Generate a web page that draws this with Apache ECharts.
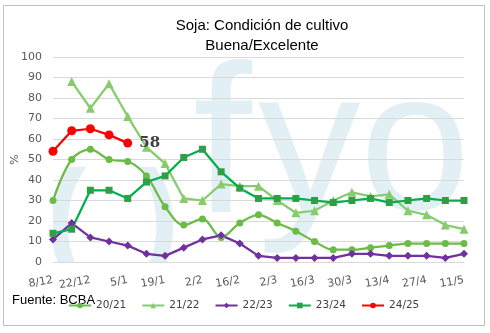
<!DOCTYPE html>
<html>
<head>
<meta charset="utf-8">
<script src="https://cdn.jsdelivr.net/npm/echarts@6/dist/echarts.min.js"></script>
<style>
  html, body { margin: 0; padding: 0; background: #fff; }
  #chart { width: 490px; height: 333px; }
</style>
</head>
<body>
<div id="chart"></div>
<script>
// Weekly survey dates (day/month)
const weeks = ['8/12','15/12','22/12','29/12','5/1','12/1','19/1','26/1','2/2','9/2','16/2','23/2',
               '2/3','9/3','16/3','23/3','30/3','6/4','13/4','20/4','27/4','4/5','11/5'];

// Share of soybean rated good/excellent (%), per campaign
const s2021 = [30,50,55,50,49,42,27,18,21,12,19,23,19,15,10,6,6,7,8,9,9,9,9];
const s2122 = [null,88,75,87,71,56,48,31,30,38,37,37,30,24,25,30,34,32,33,25,23,18,16];
const s2223 = [11,19,12,10,8,4,3,7,11,13,9,3,2,2,2,2,4,4,3,3,3,2,4];
const s2324 = [14,16,35,35,31,39,42,51,55,44,36,31,31,31,30,29,30,31,29,30,31,30,30];
const s2425 = [54,64,65,62,58];

const yTicks = { min: 0, max: 100, step: 10 };

const W = 490, H = 333;
const plot = { left: 53, right: 26, top: 57, bottom: 71 };
const axisFont = 'DejaVu Sans';

// Background "(fyo" logo, painted on its own canvas and clipped to the plot area
function logoCanvas() {
  const c = document.createElement('canvas');
  c.width = W; c.height = H;
  const ctx = c.getContext('2d');
  ctx.beginPath();
  ctx.rect(plot.left, plot.top, W - plot.left - plot.right, H - plot.top - plot.bottom);
  ctx.clip();
  ctx.fillStyle = '#e2f0f5';
  ctx.textBaseline = 'alphabetic';
  ctx.font = 'bold 124px "Liberation Sans"';
  ctx.fillText('(', 45, 257);
  ctx.fillText(')', 138, 257);
  ctx.font = '212px "Liberation Sans"';
  ctx.fillText('f', 193, 212);
  ctx.font = '205px "Liberation Sans"';
  ctx.fillText('y', 258, 211);
  ctx.font = '198px "Liberation Sans"';
  ctx.fillText('o', 360, 209);
  return c;
}

const chart = echarts.init(document.getElementById('chart'), null, { renderer: 'canvas' });

// last value of the current campaign gets its own label
const current = s2425.map((v, i) => i === s2425.length - 1
  ? { value: v, label: { show: true, position: 'right', distance: 7, formatter: '{c}',
      fontFamily: 'DejaVu Serif', fontWeight: 'bold', fontSize: 15, color: '#404040' } }
  : v);

chart.setOption({
  animation: false,
  backgroundColor: '#fff',
  title: {
    text: 'Soja: Condición de cultivo\nBuena/Excelente',
    left: 257, top: 11, textAlign: 'center',
    textStyle: { fontFamily: 'Liberation Sans', fontWeight: 'normal', fontSize: 15, lineHeight: 20, color: '#000' }
  },
  graphic: [
    { type: 'image', z: -10, silent: true,
      style: { image: logoCanvas(), x: 0, y: 0, width: W, height: H } },
    { type: 'rect', z: -20, silent: true,
      shape: { x: 3.5, y: 5.5, width: 481, height: 320 },
      style: { fill: 'none', stroke: '#c0c0c0', lineWidth: 1 } },
    { type: 'text', silent: true,
      style: { text: 'Fuente: BCBA', x: 12, y: 294, fontSize: 13, fontFamily: 'Liberation Sans', fill: '#000' } }
  ],
  legend: {
    left: 63, top: 295, itemWidth: 22, itemHeight: 7, itemGap: 15,
    textStyle: { fontFamily: axisFont, fontSize: 10.5, color: '#404040' },
    data: ['20/21','21/22','22/23','23/24','24/25']
  },
  grid: { left: plot.left, right: plot.right, top: plot.top, bottom: plot.bottom, outerBoundsMode: 'none' },
  xAxis: {
    type: 'category', data: weeks, boundaryGap: false,
    axisLine: { show: true, lineStyle: { color: '#d9d9d9' } },
    axisTick: { show: false },
    axisLabel: { interval: 1, rotate: 10, margin: 18, fontFamily: axisFont, fontSize: 11, color: '#595959' }
  },
  yAxis: {
    type: 'value', min: yTicks.min, max: yTicks.max, interval: yTicks.step,
    name: '%', nameLocation: 'middle', nameGap: 32, nameRotate: 90, nameMoveOverlap: false,
    nameTextStyle: { fontFamily: axisFont, fontSize: 11, color: '#595959' },
    axisLine: { show: false }, axisTick: { show: false },
    axisLabel: { margin: 11, fontFamily: axisFont, fontSize: 11, color: '#595959' },
    splitLine: { lineStyle: { color: '#d9d9d9', width: 1 } }
  },
  series: [
    { name: '20/21', type: 'line', data: s2021, smooth: 0.35, symbol: 'circle', symbolSize: 7,
      lineStyle: { color: '#6cbb47', width: 2.25 }, itemStyle: { color: '#6cbb47' } },
    { name: '21/22', type: 'line', data: s2122, symbol: 'triangle', symbolSize: 9,
      lineStyle: { color: '#86cc6c', width: 2.25 }, itemStyle: { color: '#86cc6c' } },
    { name: '22/23', type: 'line', data: s2223, symbol: 'diamond', symbolSize: 8,
      lineStyle: { color: '#7030a0', width: 2.25 }, itemStyle: { color: '#7030a0' } },
    { name: '23/24', type: 'line', data: s2324, symbol: 'rect', symbolSize: 7,
      lineStyle: { color: '#00b050', width: 2.25 }, itemStyle: { color: '#2f9e44' } },
    { name: '24/25', type: 'line', data: current, symbol: 'circle', symbolSize: 9,
      lineStyle: { color: '#ff0000', width: 2.25 }, itemStyle: { color: '#ff0000' } }
  ]
});
</script>
</body>
</html>
